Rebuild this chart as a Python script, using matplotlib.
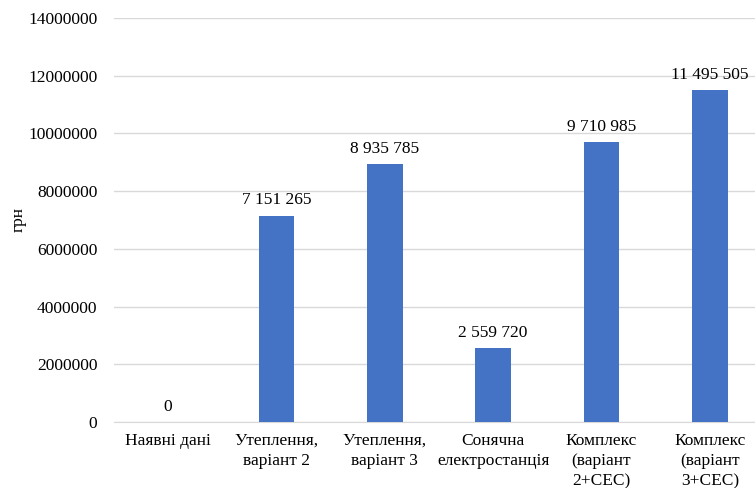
import matplotlib.pyplot as plt

categories = ['Наявні дані', 'Утеплення,\nваріант 2', 'Утеплення,\nваріант 3',
              'Сонячна\nелектростанція', 'Комплекс\n(варіант\n2+СЕС)', 'Комплекс\n(варіант\n3+СЕС)']
values = [0, 7151265, 8935785, 2559720, 9710985, 11495505]
y_ticks = [0, 2000000, 4000000, 6000000, 8000000, 10000000, 12000000, 14000000]

plt.rcParams['font.family'] = ['Liberation Serif', 'DejaVu Serif']

fig = plt.figure(figsize=(7.55, 4.88), dpi=100)
ax = fig.add_axes([114 / 755, 1 - 422 / 488, 650 / 755, (422 - 18) / 488])

x = range(len(categories))
bars = ax.bar(x, values, width=0.33, color='#4472C4', zorder=3)

# value labels with space as thousands separator
for xi, v in zip(x, values):
    label = f'{v:,}'.replace(',', ' ')
    ax.text(xi, v + 250000, label, ha='center', va='bottom', fontsize=12.5, zorder=4)

ax.set_xlim(-0.5, len(categories) - 0.5)
ax.set_ylim(0, 14000000)
ax.set_yticks(y_ticks)
ax.set_yticklabels([str(t) for t in y_ticks], fontsize=12.5)
ax.set_xticks(list(x))
ax.set_xticklabels(categories, fontsize=12.5, va='top', linespacing=1.35)
ax.tick_params(axis='both', length=0, pad=8)
ax.tick_params(axis='y', pad=12)
ax.grid(axis='y', color='#d9d9d9', linewidth=1, zorder=0)
for side in ['top', 'right', 'left']:
    ax.spines[side].set_visible(False)
ax.spines['bottom'].set_color('#d9d9d9')
ax.set_ylabel('грн', fontsize=12.5)
ax.yaxis.set_label_coords(-0.135, 0.5)

fig.savefig('out.png', dpi=100)
